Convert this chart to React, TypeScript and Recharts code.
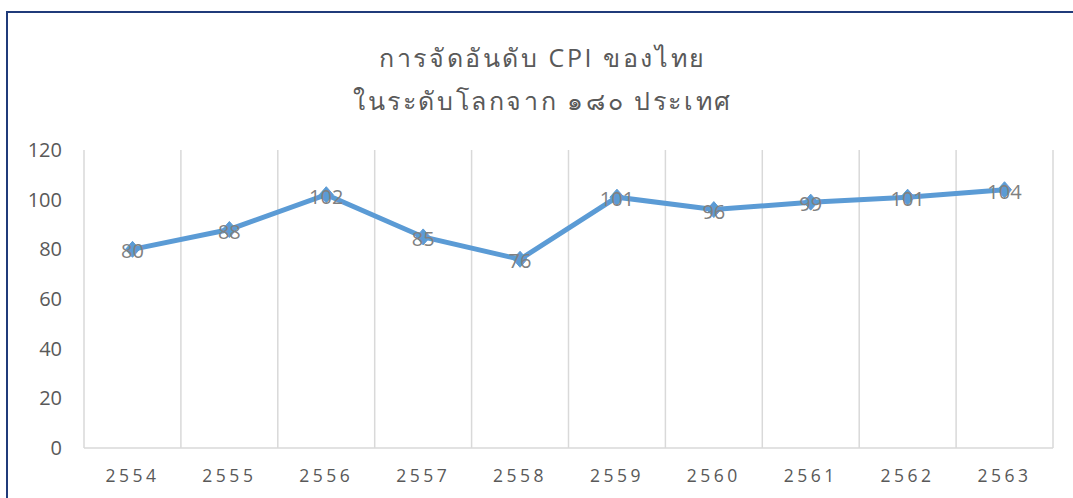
import { CartesianGrid, LabelList, Line, LineChart, XAxis, YAxis } from 'recharts'

const years = ['2554', '2555', '2556', '2557', '2558', '2559', '2560', '2561', '2562', '2563']
const ranks = [80, 88, 102, 85, 76, 101, 96, 99, 101, 104]
const yTicks = [0, 20, 40, 60, 80, 100, 120]
const titleLines = ['การจัดอันดับ CPI ของไทย', 'ในระดับโลกจาก ๑๘๐ ประเทศ']

const data = years.map((year, i) => ({ year, rank: ranks[i] }))

const BLUE = '#5b9bd5'
const GRID = '#d9d9d9'
const TEXT = '#595959'
const FONT = '"Open Sans", "Noto Sans", sans-serif'

const Diamond = (props: { cx?: number; cy?: number; index?: number }) => {
  const { cx, cy, index } = props
  if (cx == null || cy == null) return null
  return (
    <polygon
      key={`d-${index}`}
      points={`${cx},${cy - 8} ${cx + 7},${cy} ${cx},${cy + 8} ${cx - 7},${cy}`}
      fill={BLUE}
      stroke={BLUE}
    />
  )
}

// gridlines sit between the categories, like Excel's "between tick marks"
const betweenLines = ({ offset }: { offset: { left: number; width: number } }) =>
  Array.from({ length: years.length + 1 }, (_, i) => offset.left + (i * offset.width) / years.length)

export default function App() {
  return (
    <div style={{ position: 'absolute', left: 0, top: 0, width: 1073, height: 498, overflow: 'hidden', background: '#fff' }}>
      <div
        style={{
          position: 'absolute',
          left: 6,
          top: 11,
          width: 1080,
          height: 500,
          borderTop: '2px solid #203b7a',
          borderLeft: '2px solid #203b7a',
        }}
      />
      <div
        style={{
          position: 'absolute',
          left: 0,
          top: 36,
          width: 1086,
          textAlign: 'center',
          color: TEXT,
          fontFamily: FONT,
          fontSize: 25,
          letterSpacing: 2.6,
          lineHeight: '43px',
        }}
      >
        {titleLines.map((t) => (
          <div key={t}>{t}</div>
        ))}
      </div>
      <div style={{ position: 'absolute', left: 0, top: 0 }}>
        <LineChart width={1073} height={498} data={data} margin={{ top: 150, right: 20, bottom: 20, left: 0 }}>
          <CartesianGrid horizontal={false} stroke={GRID} strokeWidth={1.5} verticalCoordinatesGenerator={betweenLines} />
          <XAxis
            dataKey="year"
            height={30}
            padding={{ left: 48.5, right: 48.5 }}
            tickLine={false}
            tickSize={0}
            tickMargin={22}
            axisLine={{ stroke: GRID, strokeWidth: 1.5 }}
            tick={{ fill: TEXT, fontSize: 17.5, fontFamily: FONT, letterSpacing: 3.5 }}
          />
          <YAxis
            width={84}
            domain={[0, 120]}
            ticks={yTicks}
            axisLine={false}
            tickLine={false}
            tickSize={0}
            tickMargin={22}
            tick={{ fill: TEXT, fontSize: 20, fontFamily: FONT }}
          />
          <Line
            type="linear"
            dataKey="rank"
            stroke={BLUE}
            strokeWidth={5}
            dot={Diamond}
            activeDot={false}
            isAnimationActive={false}
          >
            <LabelList dataKey="rank" position="center" dy={2} fill="#808080" fontSize={20} fontFamily={FONT} />
          </Line>
        </LineChart>
      </div>
    </div>
  )
}
